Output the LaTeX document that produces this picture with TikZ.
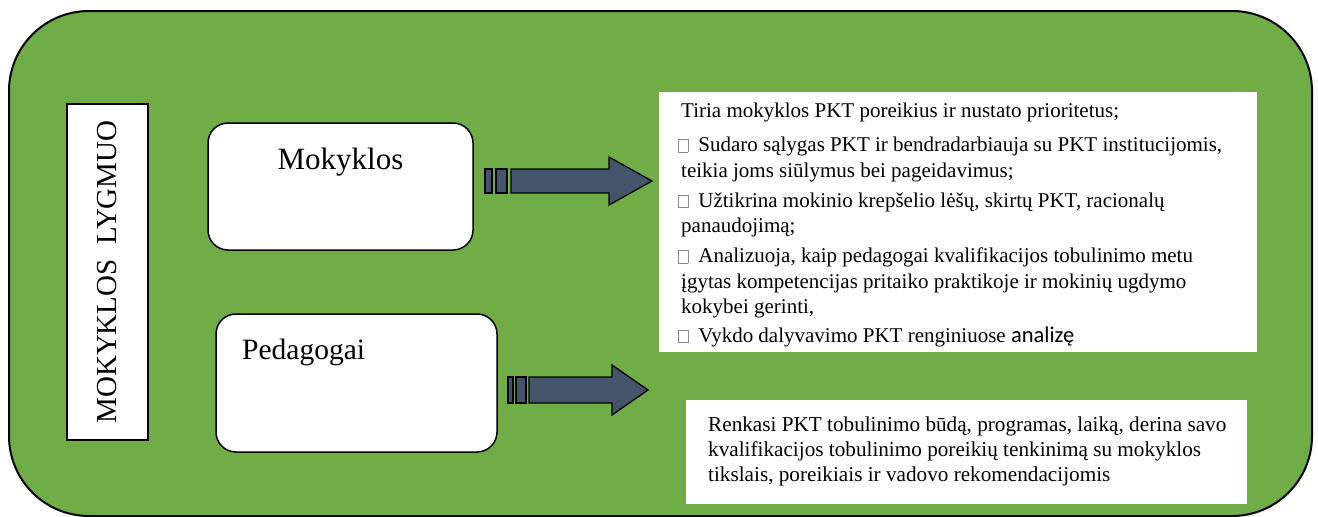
\documentclass[tikz,border=0pt]{standalone}
\usepackage{fontspec}
\setmainfont{Liberation Serif}
\newfontfamily\accentsans{Carlito}
\definecolor{panelgreen}{HTML}{70AD47}
\definecolor{slate}{HTML}{44546A}
% empty square standing in for the list bullet, followed by its gap
\newcommand\bulletbox{\hspace{-3pt}{\color{black!45}\fboxsep=0pt\fboxrule=0.6pt\fbox{\rule{0pt}{12pt}\hspace{9pt}}}\hspace{10pt}}

\begin{document}
\begin{tikzpicture}[x=1pt,y=-1pt,
  panel/.style={draw=black, line width=2pt, fill=panelgreen, rounded corners=80pt},
  rolebox/.style={draw=black, line width=1.5pt, fill=white, rounded corners=20pt, inner sep=0pt},
  labelbox/.style={draw=black, line width=1.5pt, fill=white, inner sep=0pt},
  textbox/.style={fill=white, inner sep=0pt},
  blockarrow/.style={draw=black, line width=1.3pt, fill=slate, line join=miter},
  body/.style={font=\fontsize{21}{25.5}\selectfont, align=left, anchor=north west, inner sep=0pt},
  title/.style={font=\fontsize{31}{31}\selectfont, inner sep=0pt}
]
\useasboundingbox (0,0) rectangle (1318,517);

% green background panel
\draw[panel] (9,11) rectangle (1312,516);

% vertical level label
\node[labelbox, rotate=90, minimum width=336pt, minimum height=81pt,
      font=\fontsize{29}{29}\selectfont] (level) at (107.5,272) {MOKYKLOS\ \ LYGMUO};

% actors
\node[rolebox, minimum width=265pt, minimum height=127pt] (school) at (340.5,186.5) {};
\node[title, anchor=base] (schooltitle) at (340.5,169) {Mokyklos};

\node[rolebox, minimum width=281pt, minimum height=138pt] (teachers) at (356.5,383) {};
\node[title, font=\fontsize{29.5}{29.5}\selectfont, anchor=base west] (teacherstitle) at (242,359) {Pedagogai};

% block arrows
\draw[blockarrow] (485,169) rectangle (492,193);
\draw[blockarrow] (496,169) rectangle (507,193);
\draw[blockarrow] (511,169) -- (609,169) -- (609,157) -- (652,181)
  -- (609,205) -- (609,193) -- (511,193) -- cycle;

\draw[blockarrow] (508,377) rectangle (513,403);
\draw[blockarrow] (516,377) rectangle (526,403);
\draw[blockarrow] (529,377) -- (612,377) -- (612,365) -- (648,390)
  -- (612,415) -- (612,403) -- (529,403) -- cycle;

% responsibilities
\node[textbox, minimum width=598pt, minimum height=260pt] (duties) at (958,222) {};
\node[body] (dutiestext) at (681,103) {%
Tiria mokyklos PKT poreikius ir nustato prioritetus;\\[8.5pt]
\bulletbox Sudaro sąlygas PKT ir bendradarbiauja su PKT institucijomis,\\
teikia joms siūlymus bei pageidavimus;\\[4.5pt]
\bulletbox Užtikrina mokinio krepšelio lėšų, skirtų PKT, racionalų\\
panaudojimą;\\[4.5pt]
\bulletbox Analizuoja, kaip pedagogai kvalifikacijos tobulinimo metu\\
įgytas kompetencijas pritaiko praktikoje ir mokinių ugdymo\\
kokybei gerinti,\\[3pt]
\bulletbox Vykdo dalyvavimo PKT renginiuose {\accentsans\fontsize{22.5}{25.5}\selectfont analizę}};

\node[textbox, minimum width=561pt, minimum height=104pt] (choices) at (966.5,452) {};
\node[body, font=\fontsize{21.2}{25}\selectfont] (choicestext) at (708,417) {%
Renkasi PKT tobulinimo būdą, programas, laiką, derina savo\\
kvalifikacijos tobulinimo poreikių tenkinimą su mokyklos\\
tikslais, poreikiais ir vadovo rekomendacijomis};
\end{tikzpicture}
\end{document}
